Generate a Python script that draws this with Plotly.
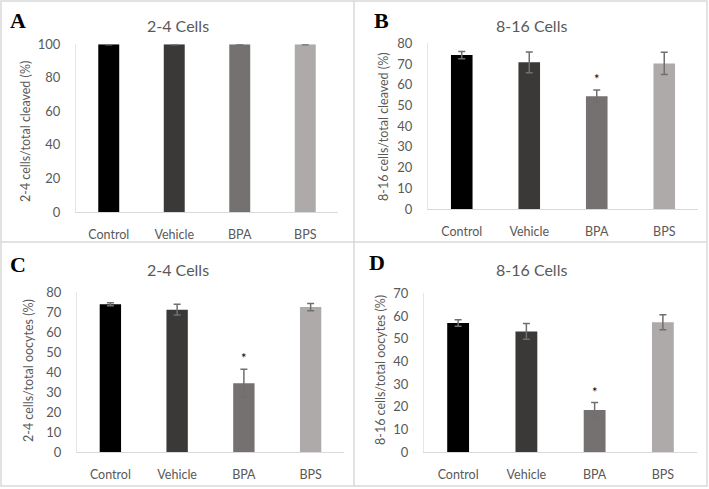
import plotly.graph_objects as go

W, H = 709, 489

categories = ["Control", "Vehicle", "BPA", "BPS"]
bar_colors = ["#000000", "#3b3838", "#767171", "#aeaaaa"]

# Panel A: 2-4 cells / total cleaved
a_vals = [100.0, 100.0, 100.0, 100.0]
a_err = [0.2, 0.2, 0.2, 0.2]
# Panel B: 8-16 cells / total cleaved
b_vals = [74.3, 70.8, 54.4, 70.3]
b_err = [1.8, 5.0, 3.0, 5.4]
# Panel C: 2-4 cells / total oocytes
c_vals = [74.0, 71.3, 34.4, 72.6]
c_err = [0.8, 2.7, 7.0, 1.8]
# Panel D: 8-16 cells / total oocytes
d_vals = [56.9, 53.2, 18.5, 57.2]
d_err = [1.4, 3.5, 3.3, 3.3]

panels = [
    dict(letter="A", title="2-4 Cells", ytitle="2-4 cells/total cleaved (%)",
         vals=a_vals, err=a_err, ymax=100, dtick=20, star=None,
         px=(76, 338), py=(44.3, 212), title_xy=(178, 25), letter_xy=(18, 21),
         ytitle_xy=(25, 132)),
    dict(letter="B", title="8-16 Cells", ytitle="8-16 cells/total cleaved (%)",
         vals=b_vals, err=b_err, ymax=80, dtick=10, star="BPA",
         px=(428, 698), py=(43.3, 209), title_xy=(531, 25), letter_xy=(381, 21),
         ytitle_xy=(383, 127)),
    dict(letter="C", title="2-4 Cells", ytitle="2-4 cells/total oocytes (%)",
         vals=c_vals, err=c_err, ymax=80, dtick=10, star="BPA",
         px=(77, 344), py=(292.3, 452), title_xy=(178, 269), letter_xy=(18, 264),
         ytitle_xy=(28, 371)),
    dict(letter="D", title="8-16 Cells", ytitle="8-16 cells/total oocytes (%)",
         vals=d_vals, err=d_err, ymax=70, dtick=10, star="BPA",
         px=(424, 697), py=(293.3, 452), title_xy=(531, 269), letter_xy=(377, 262),
         ytitle_xy=(380, 370)),
]

FONT = "Lato, 'Open Sans', sans-serif"
TXT = "#595959"

fig = go.Figure()
annotations = []
shapes = []

for i, p in enumerate(panels):
    n = "" if i == 0 else str(i + 1)
    xa, ya = "x" + n, "y" + n
    fig.add_trace(go.Bar(
        x=categories, y=p["vals"], xaxis=xa, yaxis=ya,
        marker=dict(color=bar_colors, line=dict(width=0)),
        error_y=dict(type="data", array=p["err"], visible=True,
                     color="#6f6f6f", thickness=1.5, width=3.5),
        showlegend=False, hoverinfo="skip",
    ))
    xdom = [p["px"][0] / W, p["px"][1] / W]
    ydom = [1 - p["py"][1] / H, 1 - p["py"][0] / H]
    fig.update_layout(**{
        ("xaxis" + n): dict(domain=xdom, anchor=ya, showgrid=False, automargin=False,
                            showline=True, linecolor="#d9d9d9", linewidth=1,
                            ticks="", ticklabelstandoff=11,
                            tickfont=dict(family=FONT, size=12.5, color=TXT),
                            fixedrange=True),
        ("yaxis" + n): dict(domain=ydom, anchor=xa, range=[0, p["ymax"]], automargin=False,
                            dtick=p["dtick"], showgrid=False, zeroline=False,
                            showline=True, linecolor="#e6e6e6", linewidth=1,
                            ticks="", ticklabelstandoff=12,
                            tickfont=dict(family=FONT, size=13, color=TXT),
                            fixedrange=True),
    })
    # title
    annotations.append(dict(text=p["title"], x=p["title_xy"][0] / W, y=1 - p["title_xy"][1] / H,
                            xref="paper", yref="paper", showarrow=False,
                            xanchor="center", yanchor="middle",
                            font=dict(family=FONT, size=16, color=TXT)))
    # panel letter
    annotations.append(dict(text="<b>" + p["letter"] + "</b>", x=p["letter_xy"][0] / W,
                            y=1 - p["letter_xy"][1] / H, xref="paper", yref="paper",
                            showarrow=False, xanchor="center", yanchor="middle",
                            font=dict(family="Liberation Serif, serif", size=22, color="#000000")))
    # y axis title
    annotations.append(dict(text=p["ytitle"], x=p["ytitle_xy"][0] / W, y=1 - p["ytitle_xy"][1] / H,
                            xref="paper", yref="paper", showarrow=False, textangle=-90,
                            xanchor="center", yanchor="middle",
                            font=dict(family=FONT, size=12.5, color=TXT)))
    # significance star
    if p["star"] is not None:
        k = categories.index(p["star"])
        annotations.append(dict(text="*", x=p["star"], y=p["vals"][k] + p["err"][k],
                                xref=xa, yref=ya, showarrow=False, yanchor="bottom",
                                yshift=1,
                                font=dict(family=FONT, size=13, color="#000000")))

# panel frame lines
line = dict(color="#d9d9d9", width=1.5)
shapes.append(dict(type="rect", xref="paper", yref="paper", x0=1 / W, x1=707 / W,
                   y0=1 - 486 / H, y1=1 - 1 / H, line=line))
shapes.append(dict(type="line", xref="paper", yref="paper", x0=354 / W, x1=354 / W,
                   y0=1 - 486 / H, y1=1 - 1 / H, line=line))
shapes.append(dict(type="line", xref="paper", yref="paper", x0=1 / W, x1=707 / W,
                   y0=1 - 242 / H, y1=1 - 242 / H, line=line))

fig.update_layout(
    width=W, height=H, margin=dict(l=0, r=0, t=0, b=0, autoexpand=False),
    paper_bgcolor="white", plot_bgcolor="white",
    bargap=0.68, annotations=annotations, shapes=shapes,
    font=dict(family=FONT, color=TXT),
)

post = (
    "var s=document.createElement('style');"
    "s.textContent='html,body{margin:0;padding:0;overflow:hidden;}';"
    "document.head.appendChild(s);"
)

fig.write_html("out.html", config={"displayModeBar": False}, post_script=post)
